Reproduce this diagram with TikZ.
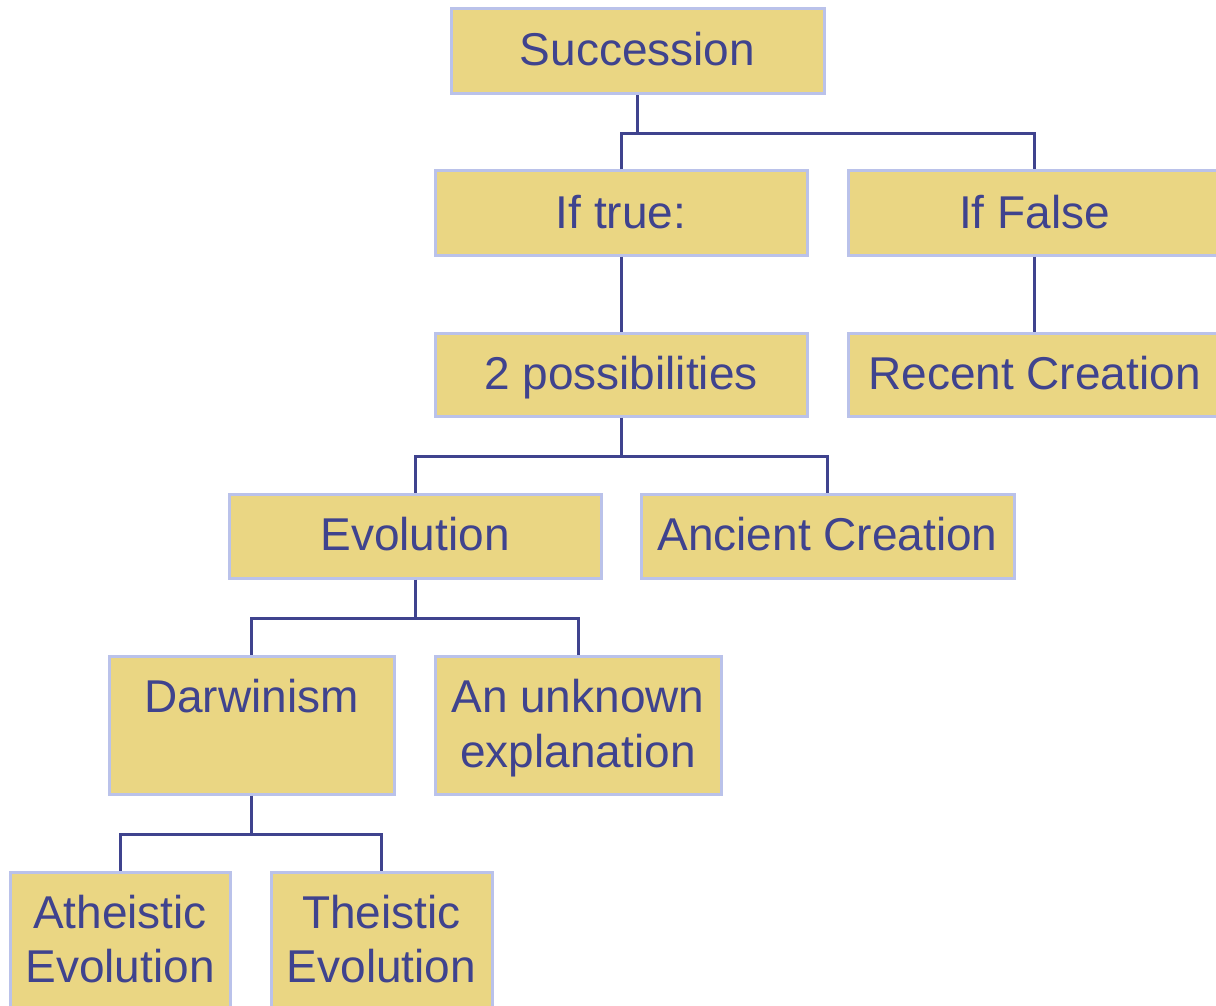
\documentclass[tikz,border=0pt]{standalone}
\usepackage{fontspec}
\setmainfont{Liberation Sans}
\usetikzlibrary{calc}
\definecolor{boxfill}{HTML}{EAD683}
\definecolor{boxline}{HTML}{BAC2EA}
\definecolor{ink}{HTML}{3F438E}
\tikzset{
  box/.style={draw=boxline, fill=boxfill, line width=3pt, inner sep=0pt, rectangle},
  lbl/.style={text=ink, anchor=base, inner sep=0pt, font=\fontsize{46}{55}\selectfont},
  link/.style={draw=ink, line width=3pt}
}
\begin{document}
\begin{tikzpicture}[x=1pt,y=-1pt]
\useasboundingbox (0,0) rectangle (1216,1006);
\clip (0,0) rectangle (1216,1006);
% boxes (centre, width, height in px)
\node[box, minimum width=373pt, minimum height=85pt] (succ) at (637.5,51.5) {};
\node[box, minimum width=372pt, minimum height=84pt] (iftrue) at (621,213) {};
\node[box, minimum width=373pt, minimum height=84pt] (iffalse) at (1034.5,213) {};
\node[box, minimum width=372pt, minimum height=83pt] (poss) at (621,374.5) {};
\node[box, minimum width=373pt, minimum height=83pt] (recent) at (1034.5,374.5) {};
\node[box, minimum width=372pt, minimum height=84pt] (evol) at (415,536) {};
\node[box, minimum width=373pt, minimum height=84pt] (ancient) at (827.5,536) {};
\node[box, minimum width=285pt, minimum height=138pt] (darwin) at (251.5,725) {};
\node[box, minimum width=286pt, minimum height=138pt] (unknown) at (578,725) {};
\node[box, minimum width=220pt, minimum height=150pt] (atheist) at (120,947) {};
\node[box, minimum width=221pt, minimum height=150pt] (theist) at (381.5,947) {};
% texts
\node[lbl] (tsucc) at (637.5,66) {Succession};
\node[lbl] (ttrue) at (621,228) {If true:};
\node[lbl] (tfalse) at (1034.5,228) {If False};
\node[lbl] (tposs) at (621,389) {2 possibilities};
\node[lbl] (trecent) at (1034.5,389) {Recent Creation};
\node[lbl] (tevol) at (415,550) {Evolution};
\node[lbl] (tancient) at (827.5,550) {Ancient Creation};
\node[lbl] (tdarwin) at (251.5,712) {Darwinism};
\node[lbl] (tunk1) at (578,712) {An unknown};
\node[lbl] (tunk2) at (578,767) {explanation};
\node[lbl] (tath1) at (120,928) {Atheistic};
\node[lbl] (tath2) at (120,982) {Evolution};
\node[lbl] (tthe1) at (381.5,928) {Theistic};
\node[lbl] (tthe2) at (381.5,982) {Evolution};
% connectors
\draw[link] (succ.south) -- ++(0,38.5) coordinate (bus1);
\draw[link] (iftrue.north) |- (bus1) -| (iffalse.north);
\draw[link] (iftrue.south) -- (poss.north);
\draw[link] (iffalse.south) -- (recent.north);
\draw[link] (poss.south) -- ++(0,39) coordinate (bus2);
\draw[link] (evol.north) |- (bus2) -| (ancient.north);
\draw[link] (evol.south) -- ++(0,39) coordinate (bus3);
\draw[link] (darwin.north) |- (bus3) -| (unknown.north);
\draw[link] (darwin.south) -- ++(0,38.5) coordinate (bus4);
\draw[link] (atheist.north) |- (bus4) -| (theist.north);
\end{tikzpicture}
\end{document}
